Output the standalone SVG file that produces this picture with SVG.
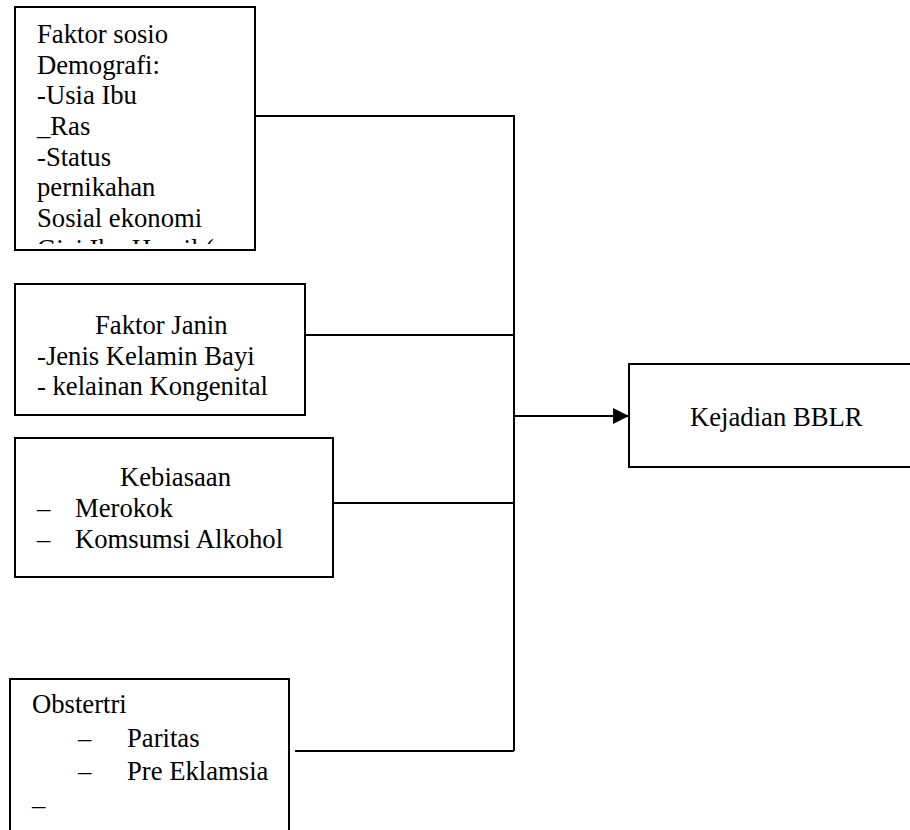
<svg xmlns="http://www.w3.org/2000/svg" width="910" height="830" viewBox="0 0 910 830">
<style>
.box{fill:#fff;stroke:#000;stroke-width:2}
.t{font-family:"Liberation Serif","Times New Roman",serif;font-size:26.67px;fill:#000}
.c{fill:none;stroke:#000;stroke-width:2}
</style>
<defs>
<marker id="arr" markerWidth="16" markerHeight="16" refX="16" refY="8" orient="auto" markerUnits="userSpaceOnUse">
<path d="M0,0 L16,8 L0,16 Z" fill="#000"/>
</marker>
<clipPath id="clip1"><rect x="16" y="8" width="238" height="236"/></clipPath>
</defs>
<rect width="910" height="830" fill="#fff"/>
<g id="connectors">
<path class="c" d="M255,116 H514 V751"/>
<path class="c" d="M305,335 H514"/>
<path class="c" d="M333,503 H514"/>
<path class="c" d="M295,751 H514"/>
<path class="c" d="M514,416 H629" marker-end="url(#arr)"/>
</g>
<g id="node-sosio">
<rect class="box" x="15" y="7" width="240" height="243"/>
<g clip-path="url(#clip1)">
<text class="t" x="37" y="43">Faktor sosio</text>
<text class="t" x="37" y="73.7">Demografi:</text>
<text class="t" x="37" y="104.3">-Usia Ibu</text>
<text class="t" x="37" y="135">_Ras</text>
<text class="t" x="37" y="165.7">-Status</text>
<text class="t" x="37" y="196.3">pernikahan</text>
<text class="t" x="37" y="227">Sosial ekonomi</text>
<text class="t" x="37" y="257.7">Gizi Ibu Hamil (</text>
</g>
</g>
<g id="node-janin">
<rect class="box" x="15" y="284" width="290" height="131"/>
<text class="t" x="95" y="334">Faktor Janin</text>
<text class="t" x="37" y="364.5">-Jenis Kelamin Bayi</text>
<text class="t" x="37" y="395">- kelainan Kongenital</text>
</g>
<g id="node-kebiasaan">
<rect class="box" x="15" y="438" width="318" height="139"/>
<text class="t" x="120" y="486">Kebiasaan</text>
<text class="t" x="37" y="517">–</text>
<text class="t" x="75" y="517">Merokok</text>
<text class="t" x="37" y="548">–</text>
<text class="t" x="75" y="548">Komsumsi Alkohol</text>
</g>
<g id="node-obstertri">
<rect class="box" x="10" y="679" width="279" height="170"/>
<text class="t" x="32" y="713">Obstertri</text>
<text class="t" x="78" y="746.5">–</text>
<text class="t" x="127" y="746.5">Paritas</text>
<text class="t" x="78" y="780">–</text>
<text class="t" x="127" y="780">Pre Eklamsia</text>
<text class="t" x="32" y="814">–</text>
</g>
<g id="node-bblr">
<rect class="box" x="629" y="364" width="300" height="103"/>
<text class="t" x="690" y="426">Kejadian BBLR</text>
</g>
</svg>
